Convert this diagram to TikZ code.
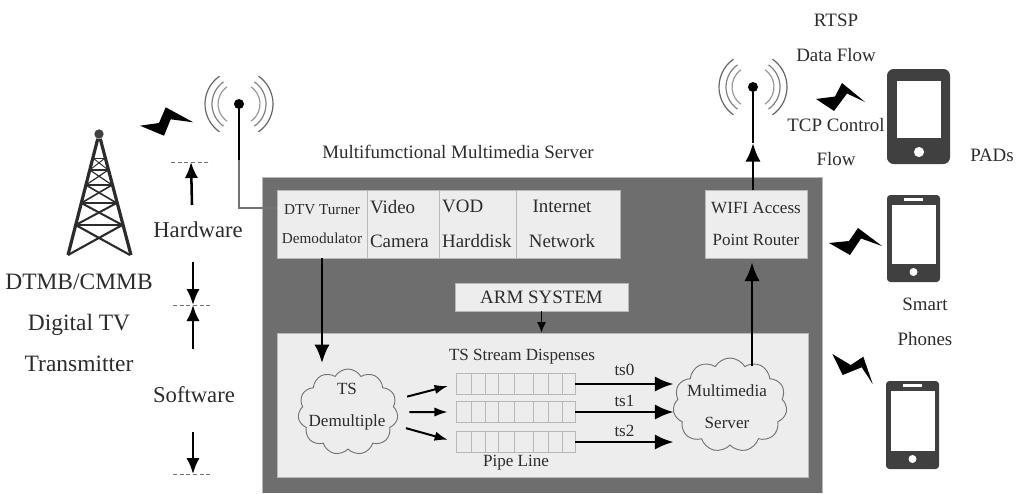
\documentclass[tikz,border=0pt]{standalone}
\usepackage{fontspec}
\setmainfont{Liberation Serif}
\usetikzlibrary{arrows.meta,shapes.symbols}
\definecolor{chassis}{HTML}{6E6E6E}
\definecolor{panel}{HTML}{EDEDED}
\definecolor{rim}{HTML}{B8B8B8}
\definecolor{ink}{HTML}{2C2C2C}
\definecolor{device}{HTML}{404040}
\tikzset{
  lab/.style={text=ink,inner sep=0pt,align=center},
  lab11/.style={lab,font=\fontsize{11.4}{22}\selectfont},
  lab13/.style={lab,font=\fontsize{12.8}{24}\selectfont},
  lab14/.style={lab,font=\fontsize{14.2}{26}\selectfont},
  lab17/.style={lab,font=\fontsize{17}{26}\selectfont},
  lab18/.style={lab,font=\fontsize{17.6}{30.75}\selectfont},
  box/.style 2 args={draw=rim,fill=panel,line width=.5pt,minimum width=#1*0.75pt,minimum height=#2*0.75pt,inner sep=0pt,align=center,text=ink},
  cloudbox/.style 2 args={cloud,cloud puffs=11,cloud puff arc=120,aspect=1.2,draw=black!55,line width=.7pt,fill=panel,
    minimum width=#1*0.75pt,minimum height=#2*0.75pt,inner sep=0pt},
  bigarrow/.style={line width=2.1pt,-{Latex[length=14pt,width=11.5pt]}},
  sidearrow/.style={line width=1.9pt,-{Latex[length=12pt,width=10pt]}},
  midarrow/.style={line width=1.5pt,-{Latex[length=10pt,width=7pt]}},
  smallarrow/.style={line width=1.2pt,-{Latex[length=8pt,width=7pt]}},
  limit/.style={densely dashed,draw=black!55,line width=.6pt},
  bolt/.style={fill=black},
}
\begin{document}
\begin{tikzpicture}[x=0.75pt,y=-0.75pt]
  \useasboundingbox (0,0) rectangle (1020,493);

  % server chassis and its modules
  \fill[chassis] (262,177) rectangle (822,493);
  \draw[rim,line width=.6pt] (262,493) -- (262,177) -- (822,177) -- (822,493);
  \node[box={90}{68},lab11] (tuner) at (322,224) {DTV Turner\\Demodulator};
  \node[box={72}{68},lab14,text width=49.5pt,align=left] (camera) at (403,224) {Video\\Camera};
  \node[box={77}{68},lab14,text width=53pt,align=left] (vod) at (477.5,224) {VOD\\Harddisk};
  \node[box={104}{68},lab14] (network) at (568,224) {Internet\hspace*{9pt}\\Network\hspace*{9pt}};
  \node[box={173}{28},lab14] (arm) at (541.5,297) {ARM SYSTEM};
  \node[box={102}{68},lab13] (wifi) at (756,224) {WIFI Access\\Point Router};
  \node[box={531}{144}] (lower) at (542.5,405) {};

  % pipe lines
  \foreach \p/\y in {0/384,1/412,2/442}
  {
    \node[box={119}{21}] (pipe\p) at (515.5,\y) {};
    \foreach \x in {471,485,498,514,533,548,562}
    {
      \draw[rim,line width=.5pt] (\x,\y-10.5) -- (\x,\y+10.5);
    }
  }
  \node[lab13] (dispense) at (522,357) {TS Stream Dispenses};
  \node[lab13] (pipeline) at (516,463) {Pipe Line};

  \node[cloudbox={100}{86}] (demux) at (348,412) {};
  \node[lab13] (demuxtext) at (347,407) {TS\\Demultiple};
  \node[cloudbox={114}{94}] (media) at (730,405) {};
  \node[lab13] (mediatext) at (727,407) {Multimedia\\Server};

  % connectors inside the server
  \draw[smallarrow] (arm.south) -- (arm.south |- lower.north);
  \draw[bigarrow,shorten >=4pt] (tuner.south) -- (tuner.south |- demux.north);
  \foreach \p in {0,1,2}
  {
    \draw[midarrow,shorten <=9pt,shorten >=6pt] (demux) -- (pipe\p.west);
  }
  \draw[bigarrow] (pipe0.east) -- (pipe0.east -| media.west) node[midway,above=5pt,lab13] (ts0) {ts0};
  \draw[bigarrow] (pipe1.east) -- (pipe1.east -| media.west) node[midway,above=3pt,lab13] (ts1) {ts1};
  \draw[bigarrow] (pipe2.east) -- (pipe2.east -| media.west) node[midway,above=3pt,lab13] (ts2) {ts2};
  \coordinate (wifiin) at (752,366);
  \draw[bigarrow,shorten >=3pt] (wifiin) -- (wifiin |- wifi.south);

  % antennas
  \node[circle,fill=black,inner sep=0pt,minimum size=7.5pt] (tvant) at (239,104) {};
  \node[circle,fill=black,inner sep=0pt,minimum size=7.5pt] (wifiant) at (753,87) {};
  \coordinate (tvmast) at (239,160);
  \coordinate (wifimast) at (753,143);
  \coordinate (tunerin) at (277,208);
  \draw[line width=2.2pt] (tvant) -- (tvmast);
  \draw[line width=2.2pt] (wifiant) -- (wifimast);
  \draw[black!55,line width=.8pt] (tvmast) |- (tunerin);
  \draw[bigarrow] (wifi.north -| wifimast) -- (wifimast);
  \foreach \ant in {tvant,wifiant}
  {
    \foreach \rad/\shade [evaluate=\rad as \rr using \rad*0.75] in {21/40,27/50,34/60}
    {
      \draw[black!\shade,line width=.9pt,shift={(\ant)}] (125:\rr pt) arc (125:235:\rr pt);
      \draw[black!\shade,line width=.9pt,shift={(\ant)}] (-55:\rr pt) arc (-55:55:\rr pt);
    }
  }

  % tower
  \node[circle,fill=device,inner sep=0pt,minimum size=7pt] (top) at (99,134) {};
  \draw[ink,line width=2.4pt] (68,255) -- (top) -- (131,255);
  \foreach \ya/\yb/\wd [evaluate=\ya as \xa using 99-(\ya-134)*31/121,
      evaluate=\ya as \xb using 99+(\ya-134)*31/121,
      evaluate=\yb as \xc using 99-(\yb-134)*31/121,
      evaluate=\yb as \xd using 99+(\yb-134)*31/121]
      in {158/170/.7,170/185/.9,185/203/1.2,203/225/1.5,225/255/1.6}
  {
    \draw[ink,line width=\wd pt] (\xa,\ya) -- (\xb,\ya);
    \draw[ink,line width=\wd pt] (\xa,\ya) -- (\xd,\yb);
    \draw[ink,line width=\wd pt] (\xb,\ya) -- (\xc,\yb);
  }

  % wireless bolts
  \fill[bolt] (140,125.7) -- (159,123) -- (165.7,107.3) -- (193.3,122.3) -- (170.7,119.3) -- (164,135.7) -- cycle;
  \fill[bolt] (816,99) -- (835,96.5) -- (842,83) -- (865,102) -- (847,93.5) -- (834,111) -- cycle;
  \fill[bolt] (829,243) -- (849,241) -- (858,228) -- (882,246) -- (861,238.5) -- (850,255) -- cycle;
  \fill[bolt] (832.3,354) -- (850.7,365) -- (863.3,356.7) -- (872.7,384) -- (861.7,367.3) -- (842.7,375) -- cycle;

  % pad and phones
  \fill[device,rounded corners=5pt] (887,69) rectangle (950,164);
  \fill[white] (897,81) rectangle (941,138);
  \fill[white] (919,152) circle (3.8pt);
  \foreach \px/\py/\qy [evaluate=\px as \qx using \px+53] in {887/195/282,886/381/469}
  {
    \fill[device,rounded corners=2.5pt] (\px,\py) rectangle (\qx,\qy);
    \fill[white] (\px+4.5,\py+10) rectangle (\px+49,\qy-18);
    \fill[white] (\px+17,\py+3) rectangle (\px+36,\py+6);
    \fill[white] (\px+26.5,\qy-10) circle (3pt);
  }

  % hardware and software limits
  \coordinate (hwtop) at (191,162);
  \coordinate (hwend) at (193,305);
  \coordinate (swend) at (193,474);
  \coordinate (hwup) at (192,205);
  \coordinate (hwdown) at (193,262);
  \coordinate (swup) at (193,349);
  \coordinate (swdown) at (193,432);
  \foreach \lim in {hwtop,hwend,swend}
  {
    \draw[limit] ([xshift=-15pt]\lim) -- ([xshift=15pt]\lim);
  }
  \draw[sidearrow] (hwup) -- (hwtop);
  \draw[sidearrow] (hwdown) -- (hwend);
  \draw[sidearrow] (swup) -- (hwend);
  \draw[sidearrow] (swdown) -- (swend);

  % free labels
  \node[lab14] (title) at (458,152) {Multifumctional Multimedia Server};
  \node[lab18] (transmitter) at (79,323) {DTMB/CMMB\\Digital TV\\Transmitter};
  \node[lab17] (hardware) at (198,230) {Hardware};
  \node[lab17] (software) at (194,395) {Software};
  \node[lab14] (rtsp) at (836,38) {RTSP\\Data Flow};
  \node[lab14] (tcp) at (836,142) {TCP Control\\Flow};
  \node[lab14] (pads) at (992,155) {PADs};
  \node[lab14] (smart) at (925,322) {Smart\\Phones};
\end{tikzpicture}
\end{document}
